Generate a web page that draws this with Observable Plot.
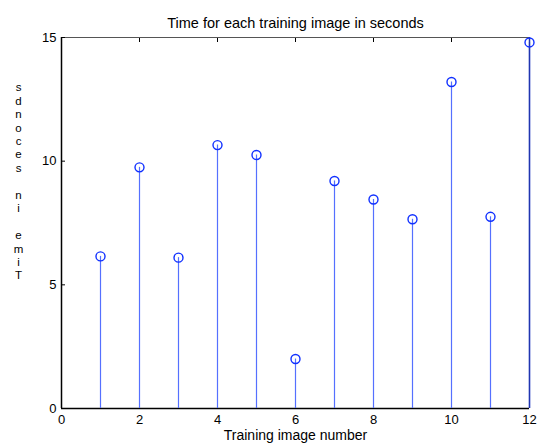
<!DOCTYPE html>
<html>
<head>
<meta charset="utf-8">
<script src="https://cdn.jsdelivr.net/npm/d3@7"></script>
<script src="https://cdn.jsdelivr.net/npm/@observablehq/plot@0.6"></script>
<style>
  html, body { margin: 0; padding: 0; background: #fff; }
</style>
</head>
<body>
<div id="chart"></div>
<script>
const imageNumbers = [1, 2, 3, 4, 5, 6, 7, 8, 9, 10, 11, 12];
const secondsPerImage = [6.15, 9.75, 6.1, 10.65, 10.25, 2.0, 9.2, 8.45, 7.65, 13.2, 7.75, 14.8];
const xTicks = [0, 2, 4, 6, 8, 10, 12];
const yTicks = [0, 5, 10, 15];
const titleText = "Time for each training image in seconds";
const xLabelText = "Training image number";
const yLabelText = "Time in seconds";

const data = imageNumbers.map((n, i) => ({n, t: secondsPerImage[i]}));
const yLabelStacked = yLabelText.split("").reverse().join("\n");
const font = "Liberation Sans, Arial, Helvetica, sans-serif";
const stemBlue = "#5570ff";
const dotBlue = "#1030ff";

const chart = Plot.plot({
  width: 537,
  height: 447,
  marginLeft: 61,
  marginRight: 8,
  marginTop: 37,
  marginBottom: 39,
  style: {fontFamily: font, fontSize: "13px", color: "#000", background: "#fff"},
  x: {domain: [0, 12], label: null},
  y: {domain: [0, 15], label: null},
  marks: [
    Plot.ruleY([15], {stroke: "#555", strokeWidth: 1}),
    Plot.ruleX([0], {stroke: "#000", strokeWidth: 1.5}),
    Plot.ruleY([0], {stroke: "#000", strokeWidth: 1.5}),
    Plot.axisX({ticks: xTicks, anchor: "bottom", tickSize: -4, tickPadding: 10, fontSize: 13, label: null}),
    Plot.axisX({ticks: xTicks, anchor: "top", tickSize: -4, tickFormat: () => "", label: null}),
    Plot.axisY({ticks: yTicks, anchor: "left", tickSize: -4, tickPadding: 9, fontSize: 13, label: null}),
    Plot.ruleX(data, {x: "n", y1: 0, y2: "t", stroke: stemBlue, strokeWidth: 1.2}),
    Plot.ruleX([12], {stroke: "#2035b0", strokeWidth: 1.5}),
    Plot.dot(data, {x: "n", y: "t", r: 4.5, stroke: dotBlue, fill: "none", strokeWidth: 1.4}),
    Plot.text([titleText], {frameAnchor: "top", dy: -20, fontSize: 14.5, fill: "#000"}),
    Plot.text([xLabelText], {frameAnchor: "bottom", dy: 31, fontSize: 14, fill: "#000"}),
    Plot.text([yLabelStacked], {frameAnchor: "left", dx: -43, dy: -42, fontSize: 11.5, lineHeight: 1.17, textAnchor: "middle", fill: "#000"})
  ]
});
document.getElementById("chart").appendChild(chart);
</script>
</body>
</html>
